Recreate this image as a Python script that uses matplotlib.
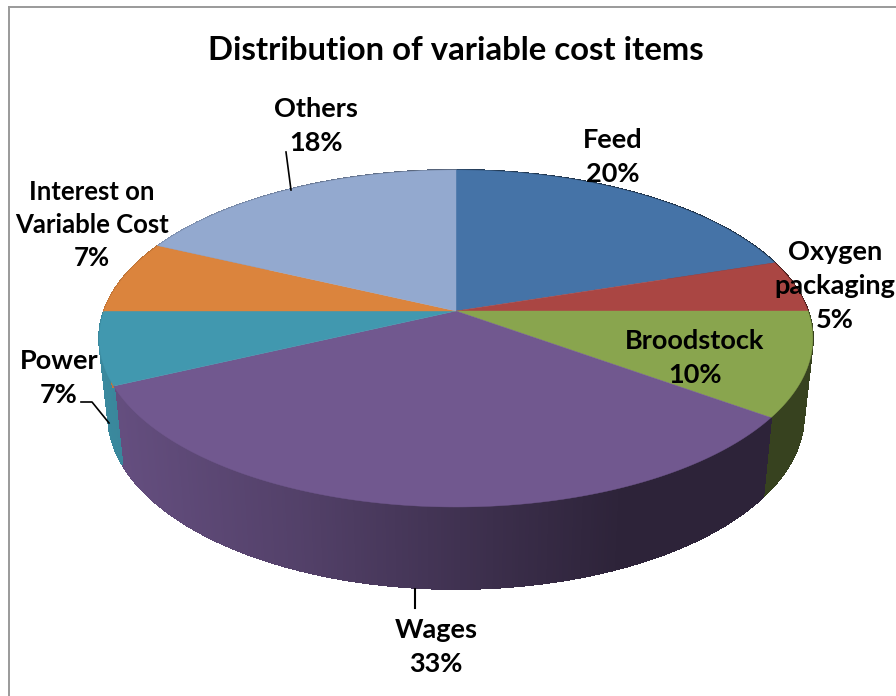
import numpy as np
import matplotlib
matplotlib.use("Agg")
import matplotlib.pyplot as plt
from matplotlib.collections import PolyCollection

plt.rcParams['font.family'] = ['Lato', 'DejaVu Sans']

title = "Distribution of variable cost items"
categories = ["Feed", "Oxygen\npackaging", "Broodstock", "Wages", "Power",
              "Interest on\nVariable Cost", "Others"]
values = [20, 5, 10, 33, 7, 7, 18]
colors = ["#4573A7", "#AA4643", "#89A54E", "#71588F", "#4198AF", "#DB843D", "#93A9CF"]

# label centres (px), font size and line spacing per label
label_xy = [(613, 157), (835, 286), (695, 358), (436, 647.5), (59, 378), (92, 225), (316, 126)]
label_fs = [19.5, 19.5, 19.5, 19.5, 19.5, 18.5, 19.5]
label_ls = [1.5, 1.5, 1.5, 1.5, 1.5, 1.45, 1.5]

CX, CY = 456, 311
A, B, K = 352, 164, 0.1632
DEPTH, SX, SY = 76, 0.975, 1.03


def top(th):
    d = 1 + K * np.cos(th)
    return CX + A * np.sin(th) / d, CY - B * np.cos(th) / d


def bottom(th):
    d = 1 + K * np.cos(th)
    return CX + SX * A * np.sin(th) / d, CY + DEPTH - SY * B * np.cos(th) / d


def shade(x):
    return np.interp(x, [100, 300, 500, 620], [0.90, 0.73, 0.52, 0.40])


fig = plt.figure(figsize=(8.96, 6.96), dpi=100, facecolor="white")
ax = fig.add_axes([0, 0, 1, 1])
ax.set_xlim(0, 896)
ax.set_ylim(696, 0)
ax.axis("off")

edges = np.cumsum([0] + values) / sum(values) * 2 * np.pi

# side walls
for i, col in enumerate(colors):
    th = np.linspace(edges[i], edges[i + 1], max(2, values[i] * 8) + 1)
    x1, y1 = top(th)
    x2, y2 = bottom(th)
    polys, faces = [], []
    rgb = np.array(matplotlib.colors.to_rgb(col))
    for j in range(len(th) - 1):
        polys.append([(x1[j], y1[j]), (x1[j + 1], y1[j + 1]), (x2[j + 1], y2[j + 1]), (x2[j], y2[j])])
        faces.append(tuple(rgb * shade((x1[j] + x1[j + 1]) / 2)))
    ax.add_collection(PolyCollection(polys, facecolors=faces, edgecolors=faces, linewidths=0.8,
                                     antialiaseds=False, zorder=2))

# top faces
for i, col in enumerate(colors):
    th = np.linspace(edges[i], edges[i + 1], 200)
    x, y = top(th)
    ax.fill(np.r_[CX, x], np.r_[CY, y], color=col, lw=0.3, zorder=3)

# frame
ax.plot([9, 9], [696, 7], color="#9A9A9A", lw=1.4, zorder=1)
ax.plot([9, 896], [7, 7], color="#9A9A9A", lw=1.4, zorder=1)

# leaders
ax.plot([286, 291], [152, 190], color="black", lw=1.2, zorder=4)
ax.plot([81, 92, 109], [402, 402, 423], color="black", lw=1.2, zorder=4)
ax.plot([415, 415], [589, 608], color="black", lw=1.5, zorder=4)

ax.text(456, 51, title, ha="center", va="center", fontsize=23.7, fontweight="bold", color="black", zorder=5)
for name, v, (lx, ly), fs, ls in zip(categories, values, label_xy, label_fs, label_ls):
    ax.text(lx, ly, f"{name}\n{v}%", ha="center", va="center", fontsize=fs, fontweight="bold",
            color="black", linespacing=ls, zorder=5)

fig.savefig("out.png", dpi=100)
